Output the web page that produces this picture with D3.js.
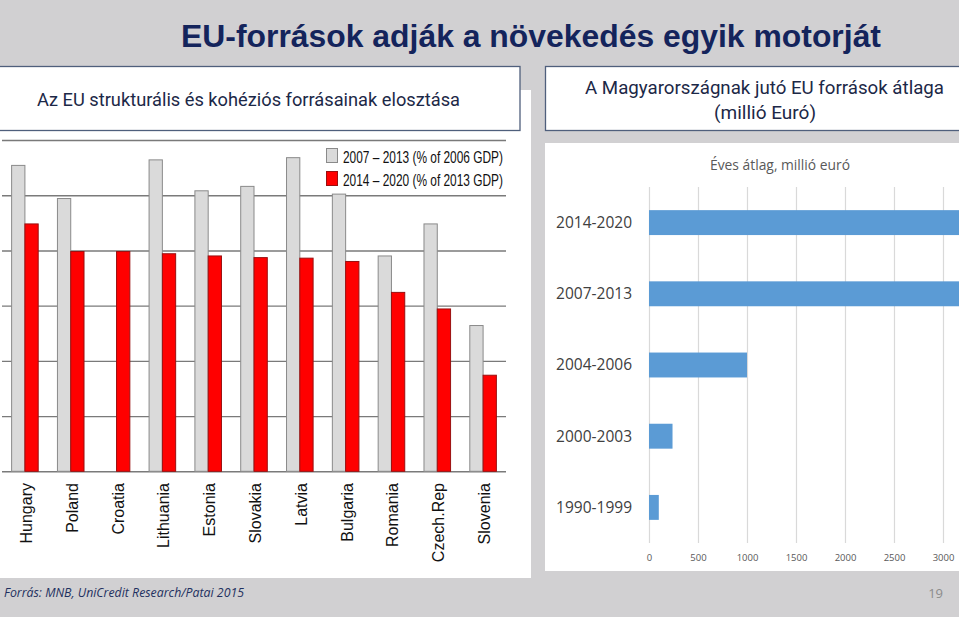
<!DOCTYPE html>
<html><head><meta charset="utf-8">
<script src="https://cdn.jsdelivr.net/npm/d3@7"></script>
<style>body{margin:0;background:#d1d0d2;overflow:hidden}svg{display:block}</style>
</head><body>
<svg id="c" width="959" height="617"></svg>
<script>
// ---- data ----
const countries = ["Hungary","Poland","Croatia","Lithuania","Estonia","Slovakia","Latvia","Bulgaria","Romania","Czech.Rep","Slovenia"];
const share0713 = [27.7,24.7,null,28.2,25.4,25.8,28.4,25.1,19.5,22.4,13.2];
const share1420 = [22.4,19.9,19.9,19.7,19.5,19.35,19.3,19.0,16.2,14.7,8.7];
const shareTicks = [0,5,10,15,20,25,30];
const legendLabels = ["2007 – 2013 (% of 2006 GDP)","2014 – 2020 (% of 2013 GDP)"];

const periods = ["2014-2020","2007-2013","2004-2006","2000-2003","1990-1999"];
const avgFunds = [3540,3610,1000,240,100];
const fundTicks = [0,500,1000,1500,2000,2500,3000];

const title = "EU-források adják a növekedés egyik motorját";
const leftTitle = "Az EU strukturális és kohéziós forrásainak elosztása";
const rightTitle1 = "A Magyarországnak  jutó EU források átlaga";
const rightTitle2 = "(millió Euró)";
const rightSub = "Éves átlag, millió euró";
const source = "Forrás: MNB, UniCredit Research/Patai 2015";
const pageNo = "19";

// ---- page ----
const svg = d3.select("#c");
svg.append("rect").attr("width",959).attr("height",617).attr("fill","#d1d0d2");

svg.append("text").text(title)
  .attr("x",181).attr("y",47).attr("textLength",700).attr("lengthAdjust","spacingAndGlyphs")
  .attr("font-family","Liberation Sans, Arial, sans-serif").attr("font-weight","bold")
  .attr("font-size",31).attr("fill","#14245c");

// left white panel
svg.append("rect").attr("x",0).attr("y",90).attr("width",531).attr("height",488).attr("fill","#fff");
// right white panel
svg.append("rect").attr("x",545).attr("y",143).attr("width",414).attr("height",428).attr("fill","#fff");

// title boxes
svg.append("rect").attr("x",-1).attr("y",66.5).attr("width",521).attr("height",64).attr("fill","#fff")
  .attr("stroke","#4f5f7c").attr("stroke-width",1.3);
svg.append("rect").attr("x",545.5).attr("y",66.5).attr("width",420).attr("height",64).attr("fill","#fff")
  .attr("stroke","#4f5f7c").attr("stroke-width",1.3);

const boxFont = "Roboto, Open Sans, sans-serif";
svg.append("text").text(leftTitle).attr("x",248.5).attr("y",106).attr("text-anchor","middle").attr("textLength",423)
  .attr("lengthAdjust","spacingAndGlyphs").attr("font-family",boxFont).attr("font-size",19).attr("fill","#1c2847");
svg.append("text").text(rightTitle1).attr("x",764.5).attr("y",94).attr("text-anchor","middle").attr("textLength",359)
  .attr("lengthAdjust","spacingAndGlyphs").attr("font-family",boxFont).attr("font-size",19).attr("fill","#1c2847");
svg.append("text").text(rightTitle2).attr("x",765).attr("y",119).attr("text-anchor","middle")
  .attr("font-family",boxFont).attr("font-size",19).attr("fill","#1c2847");

// ---- left chart ----
const L = svg.append("g");
const x0 = d3.scaleBand().domain(countries).range([2,506]).paddingInner(0.42).paddingOuter(0.21);
const y = d3.scaleLinear().domain([0,30]).range([471.3,140]);
const bw = x0.bandwidth()/2;

const grid = L.append("g").attr("transform","translate(2,0)")
  .call(d3.axisLeft(y).tickValues(shareTicks).tickSize(-504).tickFormat(""));
grid.select(".domain").remove();
grid.selectAll("line").attr("stroke","#7a7a7a").attr("stroke-width",1.4);

L.selectAll("rect.g").data(countries.map((c,i)=>({c,v:share0713[i]})).filter(d=>d.v!=null))
  .enter().append("rect").attr("class","g")
  .attr("x",d=>x0(d.c)).attr("width",bw).attr("y",d=>y(d.v)).attr("height",d=>y(0)-y(d.v))
  .attr("fill","#dadada").attr("stroke","#8a8a8a").attr("stroke-width",1);
L.selectAll("rect.r").data(countries.map((c,i)=>({c,v:share1420[i]})))
  .enter().append("rect").attr("class","r")
  .attr("x",d=>x0(d.c)+bw).attr("width",bw).attr("y",d=>y(d.v)).attr("height",d=>y(0)-y(d.v))
  .attr("fill","#ff0000").attr("stroke","#9a1010").attr("stroke-width",1);

L.selectAll("text.cat").data(countries).enter().append("text").attr("class","cat")
  .text(d=>d)
  .attr("transform",d=>`translate(${x0(d)+bw+1.5},483) rotate(-90)`)
  .attr("text-anchor","end").attr("dominant-baseline","central")
  .attr("font-family","Liberation Sans, Arial, sans-serif").attr("font-size",16).attr("fill","#111");

// legend
const legColors = [["#dadada","#8a8a8a"],["#ff0000","#9a1010"]];
legendLabels.forEach((t,i)=>{
  L.append("rect").attr("x",326.5).attr("y",148.5+i*23).attr("width",11).attr("height",14)
    .attr("fill",legColors[i][0]).attr("stroke",legColors[i][1]).attr("stroke-width",1);
  L.append("text").text(t).attr("x",343).attr("y",162.5+i*23).attr("textLength",160)
    .attr("lengthAdjust","spacingAndGlyphs")
    .attr("font-family","Liberation Sans, Arial, sans-serif").attr("font-size",17).attr("fill","#111");
});

// ---- right chart ----
const R = svg.append("g");
const xr = d3.scaleLinear().domain([0,3500]).range([649,649+3500*(294/3000)]);
const yr = d3.scaleBand().domain(periods).range([187,543]).paddingInner(0.65).paddingOuter(0.325);

const ax = R.append("g").attr("transform","translate(0,543)")
  .call(d3.axisBottom(xr).tickValues(fundTicks).tickSize(-356).tickFormat(d3.format("d")));
ax.select(".domain").remove();
ax.selectAll("line").attr("stroke","#d9d9d9").attr("stroke-width",1.2);
ax.selectAll("text").attr("y",15).attr("dy","0.35em").attr("font-family","Open Sans, sans-serif")
  .attr("font-size",9.5).attr("fill","#595959");

R.selectAll("rect.b").data(periods.map((p,i)=>({p,v:avgFunds[i]}))).enter().append("rect").attr("class","b")
  .attr("x",xr(0)).attr("y",d=>yr(d.p)).attr("width",d=>xr(d.v)-xr(0)).attr("height",yr.bandwidth())
  .attr("fill","#5b9bd5");

R.selectAll("text.p").data(periods).enter().append("text").attr("class","p").text(d=>d)
  .attr("x",632).attr("y",d=>yr(d)+yr.bandwidth()/2).attr("dy","0.35em").attr("text-anchor","end")
  .attr("font-family","Open Sans, sans-serif").attr("font-size",15.5).attr("fill","#404040");

R.append("text").text(rightSub).attr("x",710).attr("y",170).attr("textLength",140)
  .attr("lengthAdjust","spacingAndGlyphs").attr("font-family","Open Sans, sans-serif")
  .attr("font-size",14).attr("fill","#595959");

// ---- footer ----
svg.append("text").text(source).attr("x",4).attr("y",597).attr("textLength",240)
  .attr("lengthAdjust","spacingAndGlyphs").attr("font-family","Open Sans, sans-serif")
  .attr("font-style","italic").attr("font-size",13).attr("fill","#1f3060");
svg.append("text").text(pageNo).attr("x",943).attr("y",598).attr("text-anchor","end")
  .attr("font-family","Open Sans, sans-serif").attr("font-size",13).attr("fill","#8c8c8c");
</script>
</body></html>
